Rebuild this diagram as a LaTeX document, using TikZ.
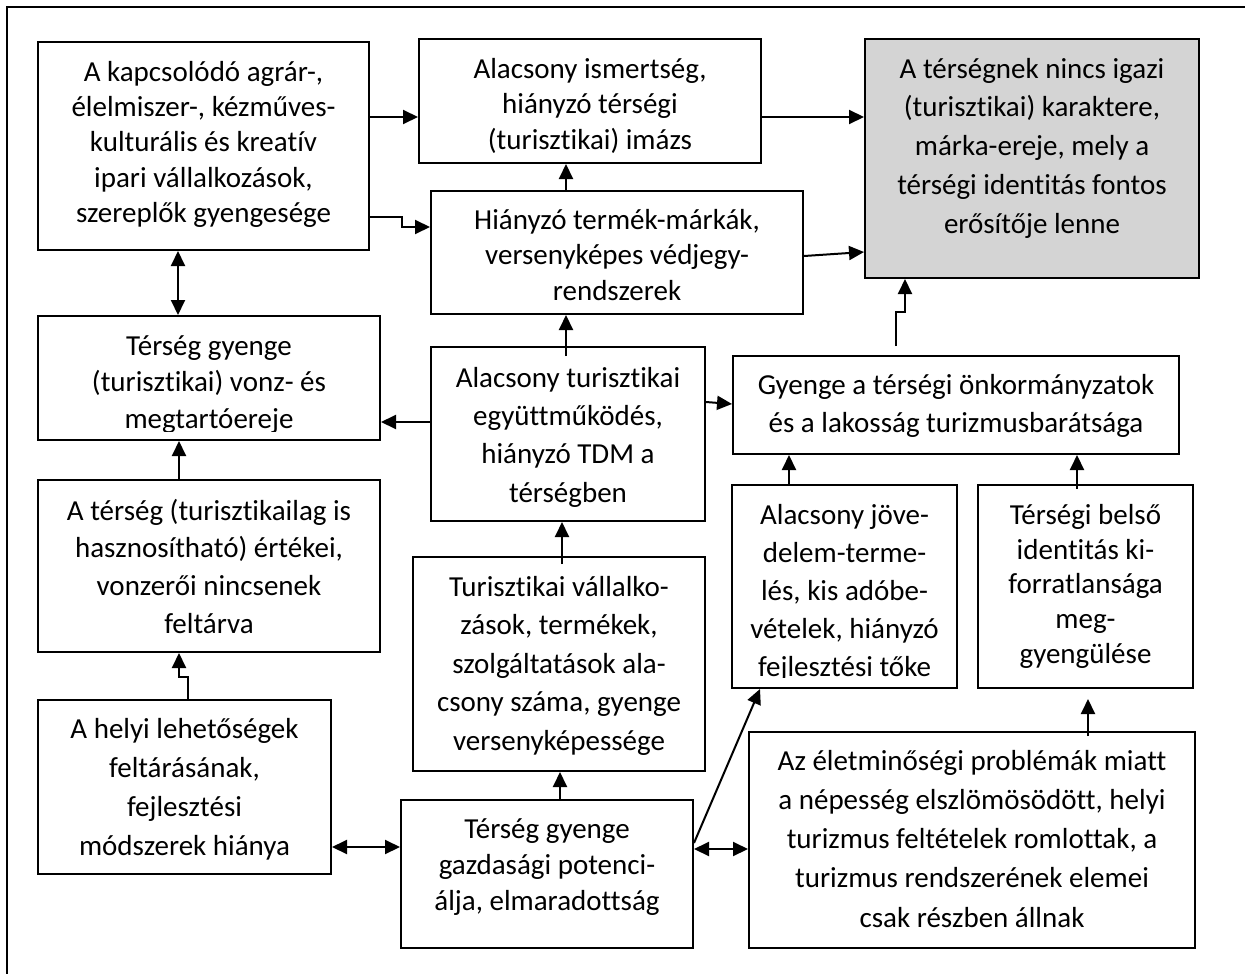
\documentclass[tikz,border=0pt]{standalone}
\usepackage{fontspec}
\setmainfont{Carlito}[Ligatures={NoCommon}]
\usetikzlibrary{arrows.meta}

\tikzset{
  frame/.style={line width=1.5pt},
  box/.style={draw, line width=2pt, inner sep=0pt},
  keybox/.style={box, fill=keygray},
  txt/.style={anchor=north, inner sep=0pt, align=center, font=\fontsize{29}{#1}\selectfont},
  arr/.style={line width=2pt, -{Triangle[length=15pt,width=14pt]}},
  darr/.style={line width=2pt, {Triangle[length=15pt,width=14pt]}-{Triangle[length=15pt,width=14pt]}}
}
\definecolor{keygray}{RGB}{212,212,212}
\newcommand{\firstline}{\rule{0pt}{24pt}}

\begin{document}
\begin{tikzpicture}[x=1pt, y=-1pt]
\useasboundingbox (0,0) rectangle (1245,974);

% surrounding frame, open towards the right and bottom edges
\draw[frame] (7,974) -- (7,7) -- (1245,7);

% boxes
\node[box, minimum width=331pt, minimum height=208pt] (A) at (203.5,146) {};
\node[box, minimum width=342pt, minimum height=124pt] (B) at (590,101) {};
\node[keybox, minimum width=334pt, minimum height=239pt] (C) at (1032,158.5) {};
\node[box, minimum width=372pt, minimum height=123pt] (D) at (617,252.5) {};
\node[box, minimum width=342pt, minimum height=124pt] (E) at (209,378) {};
\node[box, minimum width=342pt, minimum height=172pt] (F) at (209,566) {};
\node[box, minimum width=274pt, minimum height=174pt] (G) at (568,434) {};
\node[box, minimum width=446pt, minimum height=98pt]  (H) at (956,405) {};
\node[box, minimum width=225pt, minimum height=203pt] (I) at (844.5,586.5) {};
\node[box, minimum width=215pt, minimum height=203pt] (J) at (1085.5,586.5) {};
\node[box, minimum width=292pt, minimum height=214pt] (K) at (559,664) {};
\node[box, minimum width=293pt, minimum height=174pt] (L) at (184.5,787) {};
\node[box, minimum width=292pt, minimum height=148pt] (M) at (547,874) {};
\node[box, minimum width=446pt, minimum height=216pt] (N) at (972,840) {};

% box texts
\node[txt=35.3] (At) at (203.5,57) {\firstline A kapcsolódó agrár-,\\élelmiszer-, kézműves-\\kulturális és kreatív\\ipari vállalkozások,\\szereplők gyengesége};
\node[txt=35.5] (Bt) at (590,54) {\firstline Alacsony ismertség,\\hiányzó térségi\\(turisztikai) imázs};
\node[txt=38.75] (Ct) at (1032,54) {\firstline A térségnek nincs igazi\\(turisztikai) karaktere,\\márka-ereje, mely a\\térségi identitás fontos\\erősítője lenne};
\node[txt=35.5] (Dt) at (617,205) {\firstline Hiányzó termék-márkák,\\versenyképes védjegy-\\rendszerek};
\begin{scope}
  \clip (38,316) rectangle (380,431);
  \node[txt=36.5] (Et) at (209,331) {\firstline Térség gyenge\\(turisztikai) vonz- és\\megtartóereje};
\end{scope}
\node[txt=37.7] (Ft) at (209,496) {\firstline A térség (turisztikailag is\\hasznosítható) értékei,\\vonzerői nincsenek\\feltárva};
\node[txt=38.3] (Gt) at (568,363) {\firstline Alacsony turisztikai\\együttműködés,\\hiányzó TDM a\\térségben};
\node[txt=38.7] (Ht) at (956,370) {\firstline Gyenge a térségi önkormányzatok\\és a lakosság turizmusbarátsága};
\begin{scope}
  \clip (732,485) rectangle (957,677);
  \node[txt=38] (It) at (844.5,500) {\firstline Alacsony jöve-\\delem-terme-\\lés, kis adóbe-\\vételek, hiányzó\\fejlesztési tőke};
\end{scope}
\node[txt=34.8] (Jt) at (1085.5,500) {\firstline Térségi belső\\identitás ki-\\forratlansága\\meg-\\gyengülése};
\node[txt=38.5] (Kt) at (559,572) {\firstline Turisztikai vállalko-\\zások, termékek,\\szolgáltatások ala-\\csony száma, gyenge\\versenyképessége};
\node[txt=39] (Lt) at (184.5,714) {\firstline A helyi lehetőségek\\feltárásának,\\fejlesztési\\módszerek hiánya};
\node[txt=36] (Mt) at (547,814) {\firstline Térség gyenge\\gazdasági potenci-\\álja, elmaradottság};
\node[txt=39.25] (Nt) at (972,746) {\firstline Az életminőségi problémák miatt\\a népesség elszlömösödött, helyi\\turizmus feltételek romlottak, a\\turizmus rendszerének elemei\\csak részben állnak};

% connectors
\draw[arr] (A.east |- 0,117) -- (B.west |- 0,117);
\draw[arr] (A.east |- 0,217) -| (402,227) -- (D.west |- 0,227);
\draw[darr] (A.south -| 178,0) -- (E.north -| 178,0);
\draw[arr] (D.north -| 566,0) -- (B.south -| 566,0);
\draw[arr] (B.east |- 0,117) -- (C.west |- 0,117);
\draw[arr] (D.east |- 0,256) -- (C.west |- 0,252);
\draw[arr, shorten <=-10pt] (G.north -| 566,0) -- (D.south -| 566,0);
\draw[arr] (G.west |- 0,422) -- (E.east |- 0,422);
\draw[arr] (G.east |- 0,402) -- (H.west |- 0,404);
\draw[arr, shorten <=9pt] (H.north -| 896,0) -- (896,312) -| (C.south -| 905,0);
\draw[arr] (I.north -| 789,0) -- (H.south -| 789,0);
\draw[arr, shorten <=-5pt] (J.north -| 1077,0) -- (H.south -| 1077,0);
\draw[arr] (F.north -| 179,0) -- (E.south -| 179,0);
\draw[arr] (L.north -| 188,0) -- (188,677) -| (F.south -| 179,0);
\draw[arr, shorten <=-8pt] (K.north -| 562,0) -- (G.south -| 562,0);
\draw[arr] (M.north -| 560,0) -- (K.south -| 560,0);
\draw[darr] (L.east |- 0,847) -- (M.west |- 0,847);
\draw[darr] (M.east |- 0,849) -- (N.west |- 0,849);
\draw[arr] (M.east |- 0,843) -- (I.south -| 760,0);
\draw[arr, shorten <=-5pt, shorten >=10pt] (N.north -| 1088,0) -- (J.south -| 1088,0);
\end{tikzpicture}
\end{document}
